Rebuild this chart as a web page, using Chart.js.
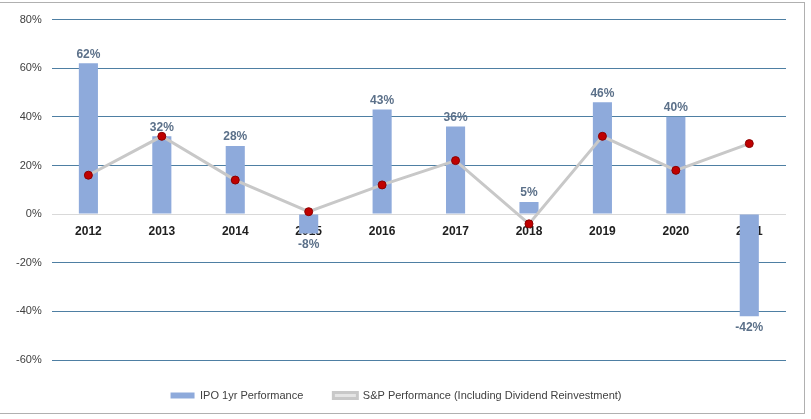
<!DOCTYPE html>
<html>
<head>
<meta charset="utf-8">
<script src="https://cdn.jsdelivr.net/npm/chart.js@4"></script>
<style>
  body { margin: 0; background: #fff; }
  #wrap { position: absolute; left: 0; top: 2px; width: 805px; height: 412px; border: 1px solid #b0b0b0; border-left: none; box-sizing: border-box; }
</style>
</head>
<body>
<div id="wrap"><canvas id="chart"></canvas></div>
<script>
const years = ['2012', '2013', '2014', '2015', '2016', '2017', '2018', '2019', '2020', '2021'];
const ipoPerf = [62, 32, 28, -8, 43, 36, 5, 46, 40, -42];
const spPerf = [16, 32, 14, 1, 12, 22, -4, 32, 18, 29];

// Value labels over/under the bars
const barLabels = {
    id: 'barLabels',
    afterDatasetsDraw(chart) {
        const ctx = chart.ctx;
        const meta = chart.getDatasetMeta(1);
        ctx.save();
        ctx.font = 'bold 12px Arial, "Liberation Sans"';
        ctx.fillStyle = '#5b7089';
        ctx.textAlign = 'center';
        meta.data.forEach((bar, i) => {
            const v = ipoPerf[i];
            if (v >= 0) {
                ctx.textBaseline = 'bottom';
                ctx.fillText(v + '%', bar.x, bar.y - 3);
            } else {
                ctx.textBaseline = 'top';
                ctx.fillText(v + '%', bar.x, bar.y + 5);
            }
        });
        ctx.restore();
    }
};

new Chart(document.getElementById('chart'), {
    data: {
        labels: years,
        datasets: [
            {
                type: 'line',
                label: 'S&P Performance (Including Dividend Reinvestment)',
                data: spPerf,
                borderColor: '#c8c8c8',
                borderWidth: 3,
                pointBackgroundColor: '#c00000',
                pointBorderColor: '#8a0000',
                pointBorderWidth: 1,
                pointRadius: 4,
                tension: 0,
                order: 0
            },
            {
                type: 'bar',
                label: 'IPO 1yr Performance',
                data: ipoPerf,
                backgroundColor: '#8eaadb',
                barPercentage: 0.26,
                categoryPercentage: 1,
                order: 1
            }
        ]
    },
    options: {
        responsive: true,
        maintainAspectRatio: false,
        animation: false,
        layout: { padding: { left: 6, right: 18, top: 8, bottom: 2 } },
        plugins: {
            legend: {
                position: 'bottom',
                reverse: true,
                labels: {
                    font: { family: 'Arial, "Liberation Sans"', size: 11 },
                    color: '#404040',
                    boxWidth: 24,
                    boxHeight: 6,
                    padding: 30
                }
            },
            tooltip: { enabled: false }
        },
        scales: {
            x: {
                position: { y: 0 },
                grid: { display: false },
                border: { display: false },
                ticks: {
                    font: { family: 'Arial, "Liberation Sans"', size: 12, weight: 'bold' },
                    color: '#202020',
                    padding: 2
                }
            },
            y: {
                min: -60,
                max: 80,
                ticks: {
                    stepSize: 20,
                    callback: v => v + '%',
                    font: { family: 'Arial, "Liberation Sans"', size: 11 },
                    color: '#404040',
                    padding: 10
                },
                grid: {
                    color: ctx => ctx.tick.value === 0 ? '#d9d9d9' : '#4e7fa3',
                    drawTicks: false
                },
                border: { display: false }
            }
        }
    },
    plugins: [barLabels]
});
</script>
</body>
</html>
